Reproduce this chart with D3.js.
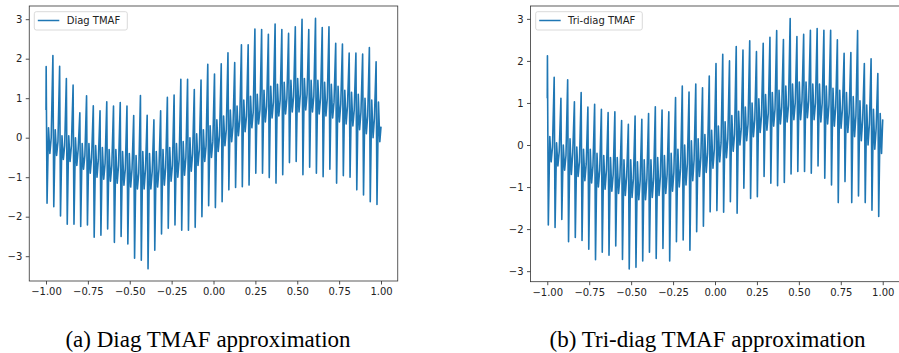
<!DOCTYPE html>
<html><head><meta charset="utf-8">
<script src="https://cdn.jsdelivr.net/npm/d3@7"></script>
<style>
html,body{margin:0;padding:0;background:#fff;}
svg{display:block;}
</style></head>
<body>
<svg id="c" width="899" height="353"></svg>
<script>
// ---------- DATA ----------
const xTicks = [-1.0, -0.75, -0.5, -0.25, 0.0, 0.25, 0.5, 0.75, 1.0];
const yTicksA = [-3, -2, -1, 0, 1, 2, 3];
const yTicksB = [-3, -2, -1, 0, 1, 2, 3];
const seriesNameA = "Diag TMAF";
const seriesNameB = "Tri-diag TMAF";
const captionA = "(a) Diag TMAF approximation";
const captionB = "(b) Tri-diag TMAF approximation";

// Panel (a): per-oscillation values
const startA = 0.7, endA = 0.28;
const peaksA = [1.8,2.08,1.81,1.5,1.33,0.63,1.06,0.81,0.68,0.91,
                0.8,0.89,0.8,0.56,1.07,0.57,0.45,0.68,1.02,1.08,
                1.48,1.48,1.22,1.46,1.86,1.61,1.87,2.15,1.9,2.35,
                2.35,2.75,2.74,2.62,2.88,2.74,2.64,2.81,3.0,2.74,
                3.02,2.79,2.81,2.39,2.37,2.14,2.14,2.12,2.28,1.92];
const bottomsA = [-1.66,-1.75,-1.98,-2.19,-2.19,-2.25,-2.21,-2.52,-2.47,-2.31,
                  -2.65,-2.5,-2.69,-3.05,-3.1,-3.32,-2.85,-2.44,-2.29,-2.21,
                  -2.34,-2.34,-2.27,-2.0,-1.72,-1.77,-1.62,-1.32,-1.26,-1.24,
                  -1.2,-0.9,-0.9,-1.01,-1.15,-0.94,-0.63,-0.6,-0.94,-0.75,
                  -0.9,-0.99,-0.8,-1.15,-0.96,-1.0,-1.32,-1.45,-1.62,-1.69];
const hiA = [0.25,0.2,0.05,0.05,0.0,-0.15,-0.15,-0.2,-0.25,-0.3,
             -0.3,-0.35,-0.4,-0.45,-0.35,-0.4,-0.35,-0.3,-0.25,-0.15,
             -0.1,0.0,0.1,0.2,0.3,0.45,0.55,0.7,0.8,0.95,
             1.05,1.1,1.2,1.3,1.35,1.4,1.45,1.5,1.5,1.45,
             1.45,1.4,1.35,1.3,1.2,1.15,1.1,1.0,0.95,0.9];
const loA = [-0.4,-0.45,-0.55,-0.6,-0.7,-0.8,-0.9,-1.0,-1.05,-1.1,
             -1.15,-1.2,-1.25,-1.3,-1.3,-1.3,-1.25,-1.2,-1.1,-1.0,
             -0.95,-0.85,-0.7,-0.6,-0.5,-0.35,-0.2,-0.1,0.05,0.15,
             0.25,0.35,0.4,0.5,0.55,0.6,0.65,0.65,0.7,0.65,
             0.6,0.55,0.5,0.4,0.35,0.3,0.2,0.1,0.0,-0.1];
const midA = [0.0,-0.1,-0.2,-0.2,-0.3,-0.45,-0.5,-0.55,-0.65,-0.7,
              -0.7,-0.8,-0.8,-0.9,-0.8,-0.85,-0.8,-0.75,-0.7,-0.55,
              -0.5,-0.4,-0.3,-0.2,-0.1,0.05,0.2,0.3,0.45,0.55,
              0.65,0.7,0.8,0.9,0.95,1.0,1.05,1.1,1.1,1.05,
              1.0,1.0,0.9,0.85,0.8,0.7,0.65,0.55,0.5,0.4];

// Panel (b)
const startB = 1.11, endB = 0.61;
const peaksB = [2.12,1.61,1.11,1.55,1.03,1.25,0.9,0.97,0.85,0.77,
                0.79,0.58,0.49,0.69,0.61,0.75,0.91,0.83,0.79,1.13,
                1.4,1.26,1.45,1.36,1.64,1.94,2.16,2.0,2.34,2.26,
                2.48,2.22,2.42,2.56,2.72,2.51,3.01,2.58,2.63,2.73,
                2.77,2.73,2.73,2.5,2.18,2.2,2.72,1.94,2.05,1.7];
const bottomsB = [-1.9,-1.96,-1.77,-2.3,-2.2,-2.27,-2.48,-2.73,-2.55,-2.62,
                  -2.4,-2.72,-2.95,-2.91,-2.76,-2.55,-2.7,-2.46,-2.76,-2.3,
                  -2.26,-2.5,-2.06,-1.93,-1.59,-1.56,-1.6,-1.35,-1.62,-1.03,
                  -1.27,-1.23,-0.75,-0.91,-0.97,-0.89,-0.69,-0.63,-0.63,-0.67,
                  -0.5,-0.79,-0.95,-1.37,-0.87,-1.37,-1.21,-1.37,-1.55,-1.7];
const hiB = [0.2,0.05,0.0,0.15,-0.05,-0.1,-0.1,-0.2,-0.25,-0.3,
             -0.3,-0.35,-0.35,-0.4,-0.35,-0.35,-0.3,-0.25,-0.2,-0.1,
             0.0,0.1,0.15,0.25,0.35,0.45,0.55,0.7,0.8,0.9,
             1.0,1.1,1.2,1.25,1.3,1.4,1.45,1.5,1.5,1.45,
             1.45,1.4,1.35,1.3,1.25,1.15,1.05,0.95,0.85,0.75];
const loB = [-0.4,-0.5,-0.6,-0.7,-0.75,-0.85,-0.9,-1.0,-1.05,-1.1,
             -1.15,-1.2,-1.25,-1.3,-1.3,-1.25,-1.2,-1.15,-1.1,-1.0,
             -0.95,-0.85,-0.75,-0.65,-0.55,-0.4,-0.3,-0.15,0.0,0.1,
             0.2,0.3,0.35,0.45,0.5,0.55,0.6,0.6,0.65,0.6,
             0.55,0.5,0.45,0.4,0.3,0.2,0.1,0.0,-0.1,-0.2];
const midB = [-0.05,-0.15,-0.25,-0.2,-0.4,-0.45,-0.5,-0.6,-0.6,-0.7,
              -0.75,-0.75,-0.8,-0.85,-0.8,-0.8,-0.75,-0.7,-0.65,-0.55,
              -0.45,-0.35,-0.3,-0.2,-0.1,0.05,0.15,0.25,0.4,0.5,
              0.6,0.7,0.75,0.85,0.9,0.95,1.0,1.05,1.05,1.0,
              1.0,0.95,0.9,0.85,0.75,0.7,0.6,0.5,0.4,0.3];

// ---------- BUILD ----------
const period = 0.0402;
const phase = [0, 0.13, 0.35, 0.55, 0.75];
function build(start, peaks, bottoms, hi, lo, mid, end) {
  const pts = [[-1, start]];
  for (let k = 0; k < peaks.length; k++) {
    const x0 = -1 + 0.001 + k * period;
    const vals = [peaks[k], bottoms[k], hi[k], lo[k], mid[k]];
    vals.forEach((v, i) => pts.push([x0 + phase[i] * period, v]));
  }
  pts.push([1, end]);
  return pts.filter(p => p[0] <= 1);
}
const dataA = build(startA, peaksA, bottomsA, hiA, loA, midA, endA);
const dataB = build(startB, peaksB, bottomsB, hiB, loB, midB, endB);

const svg = d3.select("#c");
const fmtX = d => (d < 0 ? "\u2212" : "") + Math.abs(d).toFixed(2);
const fmtY = d => (d < 0 ? "\u2212" : "") + Math.abs(d);

function panel(cfg) {
  const x = d3.scaleLinear().domain([-1.1, 1.1]).range(cfg.xr);
  const y = d3.scaleLinear().domain(cfg.yd).range([cfg.yb, cfg.yt]);
  const g = svg.append("g");
  const line = d3.line().x(d => x(d[0])).y(d => y(d[1]));
  g.append("path").datum(cfg.data).attr("d", line)
    .attr("fill", "none").attr("stroke", "#1f77b4")
    .attr("stroke-width", 1.6).attr("stroke-linejoin", "round");

  const xa = g.append("g").attr("transform", `translate(0,${cfg.yb})`)
    .call(d3.axisBottom(x).tickValues(xTicks).tickFormat(fmtX).tickSize(3.5).tickPadding(3.5));
  const ya = g.append("g").attr("transform", `translate(${cfg.xr[0]},0)`)
    .call(d3.axisLeft(y).tickValues(cfg.yticks).tickFormat(fmtY).tickSize(3.5).tickPadding(3.5));
  [xa, ya].forEach(a => {
    a.select(".domain").remove();
    a.selectAll("text").attr("font-family", "DejaVu Sans").attr("font-size", 10).attr("fill", "#222");
    a.selectAll("line").attr("stroke", "#222").attr("stroke-width", 0.8);
  });
  g.append("rect").attr("x", cfg.xr[0]).attr("y", cfg.yt)
    .attr("width", cfg.xr[1] - cfg.xr[0]).attr("height", cfg.yb - cfg.yt)
    .attr("fill", "none").attr("stroke", "#333").attr("stroke-width", 0.8);

  // legend
  const lg = g.append("g");
  lg.append("rect").attr("x", cfg.lx).attr("y", 11.7).attr("width", cfg.lw).attr("height", 18.3)
    .attr("rx", 2).attr("fill", "#fff").attr("fill-opacity", 0.8)
    .attr("stroke", "#d0d0d0").attr("stroke-width", 0.8);
  lg.append("line").attr("x1", cfg.lx + 3.5).attr("x2", cfg.lx + 25).attr("y1", 20.5).attr("y2", 20.5)
    .attr("stroke", "#1f77b4").attr("stroke-width", 1.5);
  lg.append("text").attr("x", cfg.lx + 32.4).attr("y", 24.2).text(cfg.name)
    .attr("font-family", "DejaVu Sans").attr("font-size", 10).attr("fill", "#222");

  svg.append("text").attr("x", cfg.cx).attr("y", 347).attr("text-anchor", "middle")
    .attr("font-family", "Liberation Serif").attr("font-size", 23).attr("fill", "#000")
    .text(cfg.caption);
}

panel({data: dataA, xr: [29.25, 397.75], yd: [-3.628, 3.334], yb: 281, yt: 6,
       yticks: yTicksA, lx: 34.3, lw: 93, name: seriesNameA, caption: captionA, cx: 208});
panel({data: dataB, xr: [530.5, 899.5], yd: [-3.251, 3.306], yb: 281.7, yt: 6,
       yticks: yTicksB, lx: 535.7, lw: 106.6, name: seriesNameB, caption: captionB, cx: 707.5});
</script>
</body></html>
